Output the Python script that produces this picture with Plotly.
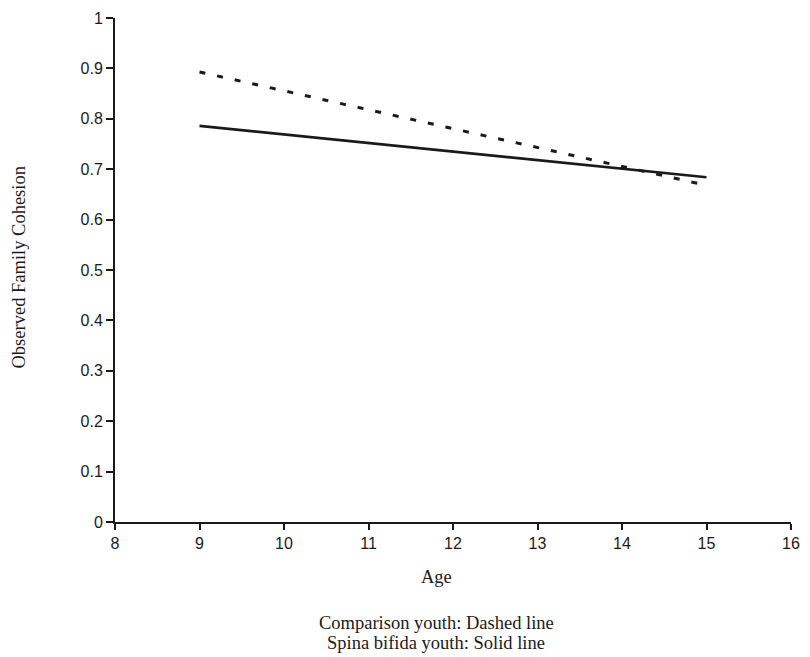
import plotly.graph_objects as go

# Age span of the fitted trajectories
ages = [9, 15]
# Model-implied observed family cohesion at start and end age
comparison_youth = [0.893, 0.668]
spina_bifida_youth = [0.786, 0.684]

x_ticks = [8, 9, 10, 11, 12, 13, 14, 15, 16]
y_ticks = [0, 0.1, 0.2, 0.3, 0.4, 0.5, 0.6, 0.7, 0.8, 0.9, 1]
y_tick_text = ["0", "0.1", "0.2", "0.3", "0.4", "0.5", "0.6", "0.7", "0.8", "0.9", "1"]

fig = go.Figure()
fig.add_trace(go.Scatter(
    x=ages, y=comparison_youth, mode="lines",
    line=dict(color="#1a1a1a", width=3, dash="6px,12px"),
    showlegend=False,
))
fig.add_trace(go.Scatter(
    x=ages, y=spina_bifida_youth, mode="lines",
    line=dict(color="#1a1a1a", width=2.6),
    showlegend=False,
))

axis_common = dict(
    showgrid=False, zeroline=False, showline=True, linecolor="#1a1a1a", linewidth=2,
    ticks="outside", tickcolor="#1a1a1a", tickwidth=2,
    tickfont=dict(family="Liberation Sans, Arial, sans-serif", size=16, color="#1a1a1a"),
)

fig.update_xaxes(range=[8, 16], tickvals=x_ticks, ticklen=6, **axis_common)
fig.update_yaxes(range=[0, 1], tickvals=y_ticks, ticktext=y_tick_text, ticklen=7, **axis_common)

serif = dict(family="Liberation Serif, Times New Roman, serif", size=18.5, color="#1a1a1a")
plot_h = 508  # pixel height of the plotting area


def below(px):
    """Paper y coordinate for a point px pixels below the x axis."""
    return -px / plot_h


fig.update_layout(annotations=[
    dict(text="Age", x=0.475, y=below(55), xref="paper", yref="paper",
         xanchor="center", yanchor="middle", showarrow=False, font=serif),
    dict(text="Observed Family Cohesion", x=-0.142, y=0.505, xref="paper", yref="paper",
         xanchor="center", yanchor="middle", textangle=-90, showarrow=False, font=serif),
    dict(text="Comparison youth: Dashed line", x=0.475, y=below(102), xref="paper",
         yref="paper", xanchor="center", yanchor="middle", showarrow=False, font=serif),
    dict(text="Spina bifida youth: Solid line", x=0.475, y=below(122), xref="paper",
         yref="paper", xanchor="center", yanchor="middle", showarrow=False, font=serif),
])

fig.update_layout(
    width=810, height=657,
    margin=dict(l=115, r=10, t=14, b=135),
    plot_bgcolor="white", paper_bgcolor="white",
)

fig.write_html("out.html")
